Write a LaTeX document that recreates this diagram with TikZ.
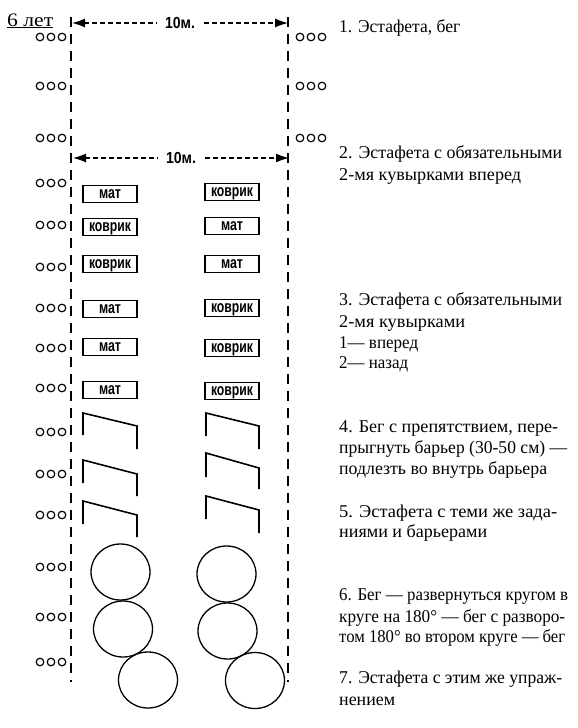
\documentclass[tikz,border=0pt]{standalone}
\usepackage{fontspec}
\setmainfont{Liberation Serif}
\setsansfont{Liberation Sans}
\usetikzlibrary{arrows.meta}
\newlength\fitlen
\newcommand\fitw[2]{\settowidth\fitlen{#2}\pgfmathsetmacro\fitratio{#1/\fitlen}\scalebox{\fitratio}[1]{#2}}
\begin{document}
\begin{tikzpicture}[x=1pt,y=-1pt,
  border/.style={line width=2.4pt, dash pattern=on 10pt off 7pt},
  dimline/.style={line width=1.3pt, dash pattern=on 5pt off 3pt, {Latex[length=13pt,width=9pt]}-{Latex[length=13pt,width=9pt]}},
  dimlabel/.style={fill=white, inner xsep=8pt, inner ysep=1pt, font=\sffamily\bfseries\fontsize{16}{16}\selectfont},
  matbox/.style={draw, line width=1.8pt, minimum width=54pt, minimum height=17pt, inner sep=0pt, text height=8.8pt, text depth=0pt, font=\sffamily\bfseries\fontsize{16.5}{16.5}\selectfont},
  seat/.style={line width=1.2pt},
  barrier/.style={line width=1.6pt},
  hoop/.style={line width=1.3pt},
  desc/.style={anchor=base west, inner sep=0pt, font=\fontsize{18}{21}\selectfont}]
\useasboundingbox (0,0) rectangle (578,728);

% title
\node[anchor=base west, inner sep=0pt, font=\fontsize{19}{19}\selectfont] (title) at (7,26) {\underline{\fitw{46}{6 лет}}};

% borders
\coordinate (LT) at (71,17);
\coordinate (LB) at (71,682);
\coordinate (RT) at (288,17);
\coordinate (RB) at (288,682);
\draw[border] (LT) -- (LB);
\draw[border] (RT) -- (RB);

% dimension arrows
\coordinate (A1l) at (72,23);
\coordinate (A1r) at (288,23);
\draw[dimline] (A1l) -- (A1r) node[dimlabel, midway] (d1) {\fitw{30}{10м.}};
\coordinate (A2l) at (73,158);
\coordinate (A2r) at (289,158);
\draw[dimline] (A2l) -- (A2r) node[dimlabel, midway] (d2) {\fitw{30}{10м.}};

% seats left
\foreach \y in {37,86,138,183,225,267,308,348,388,432,474,515,567,617,662}
  \foreach \x in {40,51,62}
    \draw[seat] (\x,\y) circle[radius=3.8pt];
% seats right
\foreach \y in {37,86,138}
  \foreach \x in {300,311,322}
    \draw[seat] (\x,\y) circle[radius=3.8pt];

% mats
\node[matbox] (m1) at (110,194) {\fitw{22}{мат}};
\node[matbox] (m2) at (110,227) {\fitw{42}{коврик}};
\node[matbox] (m3) at (110,264) {\fitw{42}{коврик}};
\node[matbox] (m4) at (110,309) {\fitw{22}{мат}};
\node[matbox] (m5) at (110,347) {\fitw{22}{мат}};
\node[matbox] (m6) at (110,390) {\fitw{22}{мат}};
\node[matbox] (n1) at (232,192) {\fitw{42}{коврик}};
\node[matbox] (n2) at (232,226) {\fitw{22}{мат}};
\node[matbox] (n3) at (232,264) {\fitw{22}{мат}};
\node[matbox] (n4) at (232,308) {\fitw{42}{коврик}};
\node[matbox] (n5) at (232,348) {\fitw{42}{коврик}};
\node[matbox] (n6) at (232,391) {\fitw{42}{коврик}};

% barriers
\draw[barrier] (83,435) -- (83,413) -- (137,426) -- (137,449);
\draw[barrier] (83,483) -- (83,460) -- (137,474) -- (137,496);
\draw[barrier] (83,524) -- (83,501) -- (137,515) -- (137,537);
\draw[barrier] (206,436) -- (206,413) -- (259,426) -- (259,449);
\draw[barrier] (206,477) -- (206,453) -- (259,468) -- (259,489);
\draw[barrier] (206,519) -- (206,496) -- (259,510) -- (259,533);

% hoops
\draw[hoop] (120.5,572) ellipse[x radius=29.5pt, y radius=28pt];
\draw[hoop] (123,629) ellipse[x radius=29.5pt, y radius=28pt];
\draw[hoop] (148,680) ellipse[x radius=29.5pt, y radius=28pt];
\draw[hoop] (226.5,574) ellipse[x radius=29.5pt, y radius=28pt];
\draw[hoop] (227.5,631) ellipse[x radius=29.5pt, y radius=28pt];
\draw[hoop] (255,680.5) ellipse[x radius=29.5pt, y radius=28pt];

% descriptions
\node[desc] (t1) at (339,32) {\fitw{121}{1. Эстафета, бег}};
\node[desc] (t2a) at (339,158) {\fitw{223}{2. Эстафета с обязательными}};
\node[desc] (t2b) at (339,180) {\fitw{182}{2-мя кувырками вперед}};
\node[desc] (t3a) at (339,305) {\fitw{223}{3. Эстафета с обязательными}};
\node[desc] (t3b) at (339,327) {\fitw{126}{2-мя кувырками}};
\node[desc] (t3c) at (339,348) {\fitw{79}{1— вперед}};
\node[desc] (t3d) at (339,368) {\fitw{69}{2— назад}};
\node[desc] (t4a) at (339,432) {\fitw{219}{4. Бег с препятствием, пере-}};
\node[desc] (t4b) at (339,453) {\fitw{228}{прыгнуть барьер (30-50 см) —}};
\node[desc] (t4c) at (339,474) {\fitw{208}{подлезть во внутрь барьера}};
\node[desc] (t5a) at (339,517) {\fitw{218}{5. Эстафета с теми же зада-}};
\node[desc] (t5b) at (339,537) {\fitw{148}{ниями и барьерами}};
\node[desc] (t6a) at (339,600) {\fitw{229}{6. Бег — развернуться кругом в}};
\node[desc] (t6b) at (339,622) {\fitw{226}{круге на 180° — бег с разворо-}};
\node[desc] (t6c) at (339,642) {\fitw{226}{том 180° во втором круге — бег}};
\node[desc] (t7a) at (339,683) {\fitw{223}{7. Эстафета с этим же упраж-}};
\node[desc] (t7b) at (339,705) {\fitw{56}{нением}};
\end{tikzpicture}
\end{document}
